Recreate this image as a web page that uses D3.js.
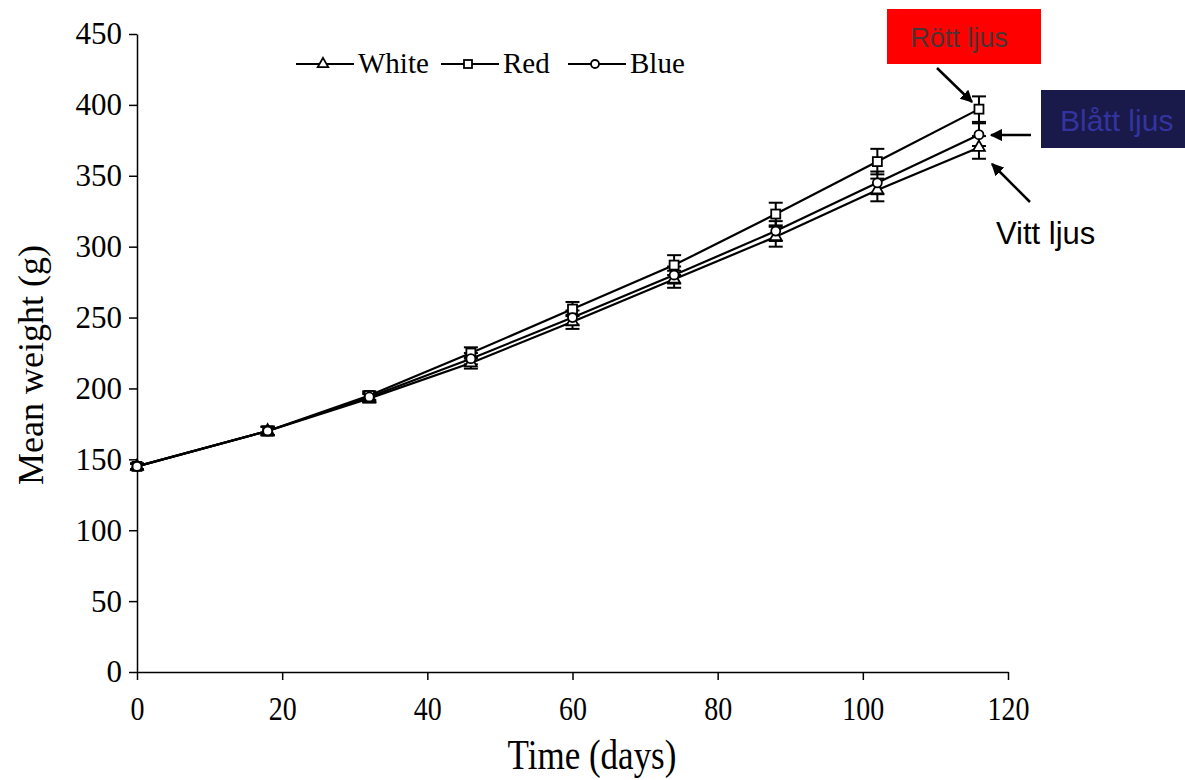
<!DOCTYPE html>
<html lang="en">
<head>
	<meta charset="UTF-8">
	<title>Mean weight over time</title>
	<script src="https://cdn.jsdelivr.net/npm/d3@7/dist/d3.min.js"></script>
	<style>
		body { margin: 0; background: #fff; }
		.axis path, .axis line { stroke: #000; stroke-width: 1.5; }
		.axis text { font-family: "Liberation Serif", "Times New Roman", serif; fill: #000; }
		.note { font-family: "Liberation Sans", Arial, sans-serif; }
	</style>
</head>
<body>
	<div id="container"></div>
	<script>
		var width = 1185, height = 780;

		// data
		var days = [0, 18, 32, 46, 60, 74, 88, 102, 116];
		var white = [145, 170, 193, 218, 247, 277, 307, 340, 370];
		var red = [145, 170, 195, 225, 256, 287, 323, 360, 397];
		var blue = [145, 170, 194, 221, 250, 280, 311, 345, 379];
		var whiteErr = [2, 3, 3, 4, 5, 6, 7, 8, 8];
		var redErr = [2, 3, 3, 4, 5, 7, 8, 9, 9];
		var blueErr = [2, 3, 3, 4, 5, 6, 7, 8, 8];
		var xTicks = [0, 20, 40, 60, 80, 100, 120];
		var yTicks = [0, 50, 100, 150, 200, 250, 300, 350, 400, 450];

		var series = [
			{ name: "White", values: white, err: whiteErr, shape: "triangle" },
			{ name: "Red", values: red, err: redErr, shape: "square" },
			{ name: "Blue", values: blue, err: blueErr, shape: "circle" }
		];

		var svg = d3.select("#container").append("svg")
			.attr("width", width)
			.attr("height", height);

		var x = d3.scaleLinear().domain([0, 120]).range([137, 1008]);
		var y = d3.scaleLinear().domain([0, 450]).range([672, 34]);

		// axes
		var xAxis = svg.append("g")
			.attr("class", "axis")
			.attr("transform", "translate(0," + y(0) + ")")
			.call(d3.axisBottom(x).tickValues(xTicks).tickSize(8).tickSizeOuter(0).tickPadding(12));
		xAxis.selectAll("text")
			.style("font-size", "28px")
			.attr("transform", "scale(1,1.2)");

		var yAxis = svg.append("g")
			.attr("class", "axis")
			.attr("transform", "translate(" + x(0) + ",0)")
			.call(d3.axisLeft(y).tickValues(yTicks).tickSize(8).tickSizeOuter(0).tickPadding(7));
		yAxis.selectAll("text")
			.style("font-size", "31px");

		svg.append("text")
			.attr("transform", "translate(592,769) scale(1,1.2)")
			.attr("text-anchor", "middle")
			.style("font-family", "Liberation Serif, serif")
			.style("font-size", "35px")
			.text("Time (days)");

		svg.append("text")
			.attr("transform", "translate(43,365) rotate(-90)")
			.attr("text-anchor", "middle")
			.style("font-family", "Liberation Serif, serif")
			.style("font-size", "36px")
			.text("Mean weight (g)");

		// markers
		function drawShape(g, shape, size) {
			if (shape === "square") {
				g.append("rect")
					.attr("x", -size / 2).attr("y", -size / 2)
					.attr("width", size).attr("height", size);
			} else if (shape === "circle") {
				g.append("circle").attr("r", size / 2);
			} else {
				g.append("path").attr("d", d3.symbol(d3.symbolTriangle, size * size * 0.75)());
			}
			g.selectAll("*")
				.attr("fill", "#fff")
				.attr("stroke", "#000")
				.attr("stroke-width", 1.8);
		}

		var line = d3.line()
			.x(function(d, i) { return x(days[i]); })
			.y(function(d) { return y(d); });

		series.forEach(function(s) {
			svg.append("path")
				.attr("d", line(s.values))
				.attr("fill", "none")
				.attr("stroke", "#000")
				.attr("stroke-width", 2.2);
		});

		series.forEach(function(s) {
			var eb = svg.append("g");
			s.values.forEach(function(v, i) {
				var cx = x(days[i]);
				var lo = y(v - s.err[i]), hi = y(v + s.err[i]);
				eb.append("line").attr("x1", cx).attr("x2", cx).attr("y1", lo).attr("y2", hi);
				eb.append("line").attr("x1", cx - 7).attr("x2", cx + 7).attr("y1", lo).attr("y2", lo);
				eb.append("line").attr("x1", cx - 7).attr("x2", cx + 7).attr("y1", hi).attr("y2", hi);
			});
			eb.selectAll("line").attr("stroke", "#000").attr("stroke-width", 2);
		});

		series.forEach(function(s) {
			s.values.forEach(function(v, i) {
				var g = svg.append("g").attr("transform", "translate(" + x(days[i]) + "," + y(v) + ")");
				drawShape(g, s.shape, 9);
			});
		});

		// legend
		var legX = [296, 441, 568];
		series.forEach(function(s, i) {
			var lg = svg.append("g").attr("transform", "translate(" + legX[i] + ",64)");
			lg.append("line")
				.attr("x1", 0).attr("x2", 58)
				.attr("stroke", "#000").attr("stroke-width", 2);
			drawShape(lg.append("g").attr("transform", "translate(27,0)"), s.shape, 8);
			lg.append("text")
				.attr("x", 62)
				.attr("y", 9)
				.style("font-family", "Liberation Serif, serif")
				.style("font-size", "29px")
				.text(s.name);
		});

		// annotations
		var defs = svg.append("defs");
		defs.append("marker")
			.attr("id", "arrow")
			.attr("viewBox", "0 0 10 10")
			.attr("refX", 9).attr("refY", 5)
			.attr("markerWidth", 5).attr("markerHeight", 5)
			.attr("markerUnits", "strokeWidth")
			.attr("orient", "auto")
			.append("path")
			.attr("d", "M0,0 L10,5 L0,10 z")
			.attr("fill", "#000");

		svg.append("rect")
			.attr("x", 887).attr("y", 9)
			.attr("width", 154).attr("height", 55)
			.attr("fill", "#ff0000");
		svg.append("text")
			.attr("class", "note")
			.attr("x", 959).attr("y", 47)
			.attr("text-anchor", "middle")
			.attr("fill", "#4a3535")
			.style("font-size", "27px")
			.text("Rött ljus");

		svg.append("rect")
			.attr("x", 1041).attr("y", 90)
			.attr("width", 144).attr("height", 58)
			.attr("fill", "#19194a");
		svg.append("text")
			.attr("class", "note")
			.attr("x", 1060).attr("y", 131)
			.attr("fill", "#3434a0")
			.style("font-size", "30px")
			.text("Blått ljus");

		svg.append("text")
			.attr("class", "note")
			.attr("x", 996).attr("y", 244)
			.attr("fill", "#000")
			.style("font-size", "31px")
			.text("Vitt ljus");

		var arrows = [
			[937, 68, 972, 102],
			[1031, 135, 991, 135],
			[1030, 202, 992, 164]
		];
		arrows.forEach(function(a) {
			svg.append("line")
				.attr("x1", a[0]).attr("y1", a[1])
				.attr("x2", a[2]).attr("y2", a[3])
				.attr("stroke", "#000")
				.attr("stroke-width", 2.5)
				.attr("marker-end", "url(#arrow)");
		});
	</script>
</body>
</html>
